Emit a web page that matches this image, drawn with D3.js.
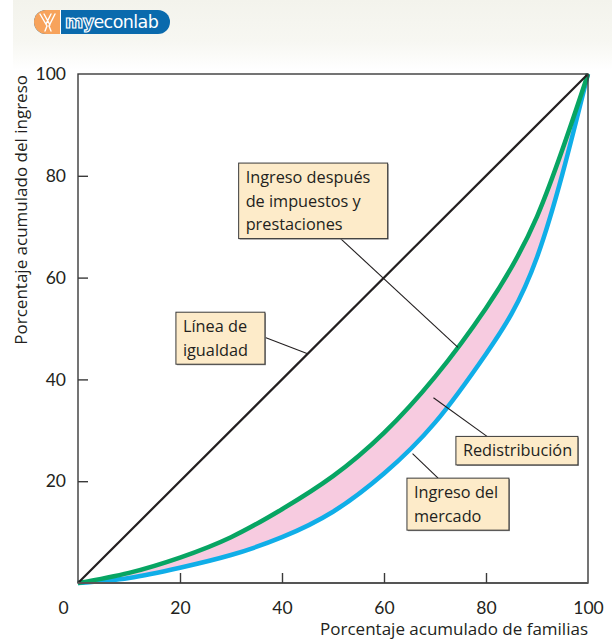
<!DOCTYPE html>
<html><head><meta charset="utf-8">
<script src="https://cdn.jsdelivr.net/npm/d3@7"></script>
<style>body{margin:0;background:#fff}svg{display:block}</style>
</head><body><div id="chart"></div>
<script>
// Data
const families = [0, 10, 20, 30, 40, 50, 60, 70, 80, 90, 100];
const marketIncome = [0, 1, 3, 5.5, 9, 14, 21.5, 31.5, 45, 64, 100];
const afterTaxIncome = [0, 2, 5, 9, 14.5, 21, 29.5, 40.5, 54, 72, 100];
const equality = [0, 100];
const xTicks = [0, 20, 40, 60, 80, 100];
const yTicks = [20, 40, 60, 80, 100];
const labels = [
  {lines:["Ingreso después","de impuestos y","prestaciones"], box:[31.5,82.5], w:149, from:[50.8,68.3], to:[74.5,46.3]},
  {lines:["Línea de","igualdad"], box:[19.2,53.2], w:89, from:[36.6,48.3], to:[44.9,45.1]},
  {lines:["Redistribución"], box:[74.1,28.8], w:122, from:[80.2,28.8], to:[69.7,36.4]},
  {lines:["Ingreso del","mercado"], box:[64.5,20.6], w:102, from:[70.6,20.6], to:[65.6,25.4]}
];

const W = 612, H = 640;
const svg = d3.select("#chart").append("svg").attr("width", W).attr("height", H)
  .style("font-family", "'Open Sans', Lato, sans-serif");

// header strip
const defs = svg.append("defs");
const g1 = defs.append("linearGradient").attr("id","hdr").attr("x1",0).attr("y1",0).attr("x2",0).attr("y2",1);
g1.append("stop").attr("offset","0%").attr("stop-color","#f3f3ec");
g1.append("stop").attr("offset","60%").attr("stop-color","#f7f7f2");
g1.append("stop").attr("offset","100%").attr("stop-color","#ffffff");
svg.append("rect").attr("x",13).attr("y",0).attr("width",W-13).attr("height",70).attr("fill","url(#hdr)");

// logo
const logo = svg.append("g");
logo.append("rect").attr("x",34).attr("y",10).attr("width",136).attr("height",24).attr("rx",12).attr("fill","#0a6aad");
logo.append("path").attr("d","M46,10 H60 V34 H46 A12,12 0 0 1 46,10 Z").attr("fill","#f7a35c");
logo.append("line").attr("x1",60.5).attr("x2",60.5).attr("y1",10).attr("y2",34).attr("stroke","#fff").attr("stroke-width",1);
logo.append("path").attr("d","M40,14 L47,26 L45,31 M44,14 L50,25 M55,14 L49,26 L51,31 M51,14 L46,24")
  .attr("stroke","#fff").attr("stroke-width",1.4).attr("fill","none").attr("stroke-linecap","round");
const lt = logo.append("text").attr("x",65).attr("y",28).attr("fill","#fff").attr("font-size",17.5)
  .attr("font-family","'DejaVu Sans', sans-serif").attr("letter-spacing","-0.6");
lt.append("tspan").attr("font-weight","bold").attr("fill","#0a6aad").attr("stroke","#fff").attr("stroke-width",1.2).text("my");
lt.append("tspan").text("econlab");

const x = d3.scaleLinear().domain([0,100]).range([78,588]);
const y = d3.scaleLinear().domain([0,100]).range([583,74]);

const pts = families.map((f,i)=>({f, m:marketIncome[i], a:afterTaxIncome[i]}));
const curve = d3.curveNatural;

svg.append("path").datum(pts)
  .attr("d", d3.area().x(d=>x(d.f)).y0(d=>y(d.m)).y1(d=>y(d.a)).curve(curve))
  .attr("fill","#f7cbe0");
svg.append("path").datum(pts)
  .attr("d", d3.line().x(d=>x(d.f)).y(d=>y(d.m)).curve(curve))
  .attr("fill","none").attr("stroke","#10aee8").attr("stroke-width",4.5);
svg.append("path").datum(pts)
  .attr("d", d3.line().x(d=>x(d.f)).y(d=>y(d.a)).curve(curve))
  .attr("fill","none").attr("stroke","#07a563").attr("stroke-width",4.5);
svg.append("path").datum(equality)
  .attr("d", d3.line().x(d=>x(d)).y(d=>y(d)))
  .attr("fill","none").attr("stroke","#231f20").attr("stroke-width",2.2);

// frame
svg.append("rect").attr("x",x(0)).attr("y",y(100)).attr("width",x(100)-x(0)).attr("height",y(0)-y(100))
  .attr("fill","none").attr("stroke","#3a3a3a").attr("stroke-width",1.4);
svg.append("line").attr("x1",x(0)).attr("x2",x(100)).attr("y1",y(0)).attr("y2",y(0)).attr("stroke","#555").attr("stroke-width",2.2);

// axes
const xAxis = svg.append("g").attr("transform",`translate(0,${y(0)})`)
  .call(d3.axisBottom(x).tickValues(xTicks).tickSize(-10).tickPadding(19).tickFormat(d3.format("d")));
const yAxis = svg.append("g").attr("transform",`translate(${x(0)},0)`)
  .call(d3.axisLeft(y).tickValues(yTicks).tickSize(-10).tickPadding(12).tickFormat(d3.format("d")));
[xAxis,yAxis].forEach(a=>{
  a.select(".domain").remove();
  a.selectAll(".tick line").attr("stroke","#3a3a3a").attr("stroke-width",1.4);
  a.selectAll(".tick text").attr("fill","#231f20").attr("font-size",17.5).attr("font-family","Lato, sans-serif");
});
xAxis.selectAll(".tick").filter(d=>d===0).select("line").remove();
xAxis.selectAll(".tick").filter(d=>d===0).select("text").attr("dx",-15);
xAxis.selectAll(".tick").filter(d=>d===100).select("line").remove();
yAxis.selectAll(".tick").filter(d=>d===100).select("line").remove();

svg.append("text").attr("x",588).attr("y",635).attr("text-anchor","end").attr("font-size",17)
  .attr("fill","#231f20").text("Porcentaje acumulado de familias");
svg.append("text").attr("transform","translate(27,75) rotate(-90)").attr("text-anchor","end").attr("font-size",17)
  .attr("fill","#231f20").text("Porcentaje acumulado del ingreso");

// annotations
labels.forEach(l=>{
  svg.append("line").attr("x1",x(l.from[0])).attr("y1",y(l.from[1])).attr("x2",x(l.to[0])).attr("y2",y(l.to[1]))
    .attr("stroke","#231f20").attr("stroke-width",1.1);
  const bx = x(l.box[0]), by = y(l.box[1]);
  const lh = 23.5, h = l.lines.length*lh + 5;
  svg.append("rect").attr("x",bx+1).attr("y",by+1).attr("width",l.w).attr("height",h).attr("fill","#888");
  svg.append("rect").attr("x",bx).attr("y",by).attr("width",l.w).attr("height",h)
    .attr("fill","#fdebc9").attr("stroke","#3a3a3a").attr("stroke-width",1);
  l.lines.forEach((t,i)=>{
    svg.append("text").attr("x",bx+7).attr("y",by+20+i*lh).attr("font-size",16.3).attr("fill","#231f20").text(t);
  });
});
</script></body></html>
